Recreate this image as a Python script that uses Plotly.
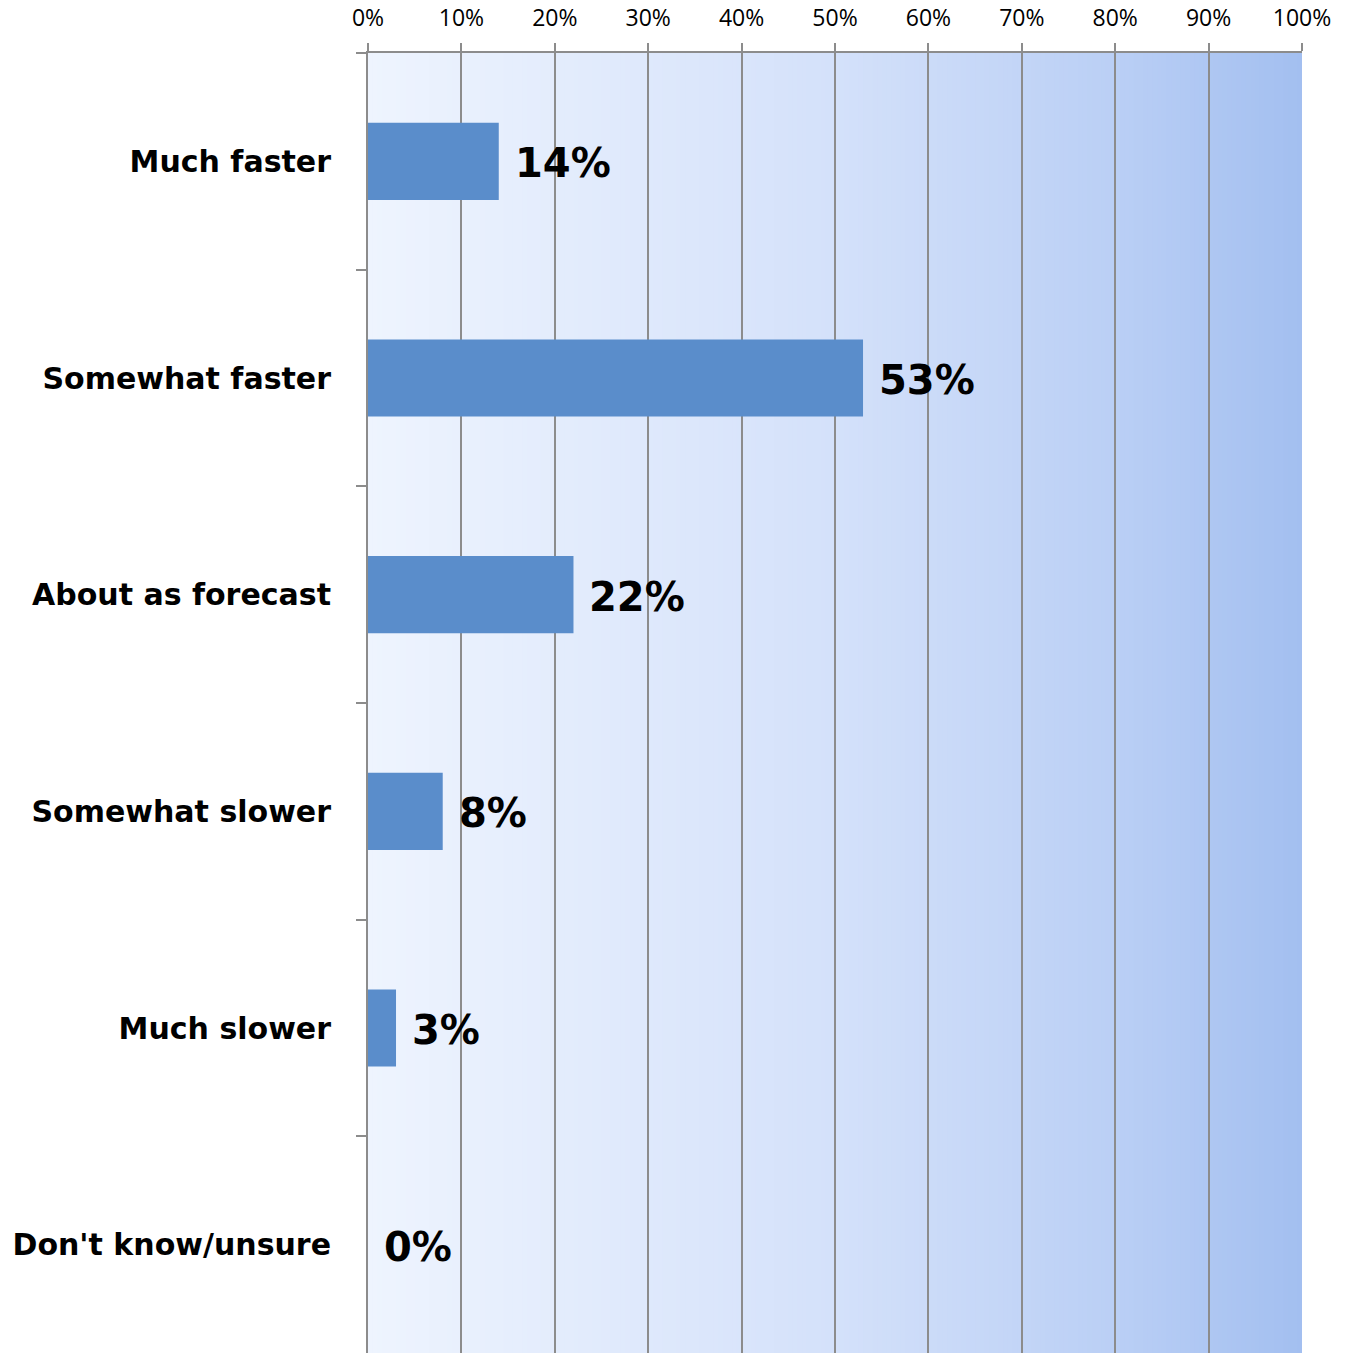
import plotly.graph_objects as go

categories = ["Much faster", "Somewhat faster", "About as forecast",
              "Somewhat slower", "Much slower", "Don't know/unsure"]
values = [14, 53, 22, 8, 3, 0]
x_ticks = [0, 10, 20, 30, 40, 50, 60, 70, 80, 90, 100]
x_tick_labels = [f"{t}%" for t in x_ticks]

bar_color = "#5a8dcb"
grid_color = "#8c8c8c"
label_font = dict(family="DejaVu Sans, Verdana, sans-serif", color="black", weight="bold")

# background gradient stops (position along x range, rgb)
grad_stops = [(0.0, (238, 244, 254)), (0.5, (212, 225, 250)),
              (0.8, (186, 207, 245)), (1.0, (163, 191, 240))]


def grad_color(t):
    for (p0, c0), (p1, c1) in zip(grad_stops[:-1], grad_stops[1:]):
        if p0 <= t <= p1:
            f = (t - p0) / (p1 - p0) if p1 > p0 else 0
            r, g, b = (round(a + (b_ - a) * f) for a, b_ in zip(c0, c1))
            return f"rgb({r},{g},{b})"
    return "rgb(163,191,240)"


# stacked rectangles, each running to the right edge, so no seams show
x0, x1 = x_ticks[0], x_ticks[-1]
n_slices = 200
shapes = []
for i in range(n_slices):
    a = x0 + (x1 - x0) * i / n_slices
    shapes.append(dict(type="rect", xref="x", yref="paper", x0=a, x1=x1,
                       y0=0, y1=1, layer="below", line=dict(width=0),
                       fillcolor=grad_color((i + 0.5) / n_slices)))

fig = go.Figure()
fig.add_trace(go.Bar(
    x=values, y=categories, orientation="h",
    marker=dict(color=bar_color, line=dict(width=0)),
    hoverinfo="skip",
))

annotations = [
    dict(x=v, y=c, xref="x", yref="y", text=f"{v}%", showarrow=False,
         xanchor="left", yanchor="middle", xshift=14, yshift=-2,
         font=dict(size=40, **label_font))
    for c, v in zip(categories, values)
]

fig.update_layout(
    width=1349, height=1353,
    margin=dict(l=368, r=47, t=53, b=0, pad=0),
    paper_bgcolor="white", plot_bgcolor="white",
    showlegend=False, bargap=0.644,
    shapes=shapes, annotations=annotations,
    xaxis=dict(
        side="top", range=[x0, x1], tickmode="array",
        tickvals=x_ticks, ticktext=x_tick_labels,
        ticks="outside", ticklen=8, tickwidth=2, tickcolor=grid_color,
        showgrid=True, gridcolor=grid_color, gridwidth=2,
        showline=True, linecolor=grid_color, linewidth=2,
        zeroline=False, fixedrange=True, ticklabelstandoff=8,
        tickfont=dict(family="Open Sans, sans-serif", size=23, color="black"),
    ),
    yaxis=dict(
        categoryorder="array", categoryarray=categories, autorange="reversed",
        ticks="outside", tickson="boundaries", ticklen=10, tickwidth=2,
        tickcolor=grid_color, showline=True, linecolor=grid_color, linewidth=2,
        showgrid=False, zeroline=False, ticklabelstandoff=29,
        tickfont=dict(size=30, **label_font),
    ),
)

fig.write_html("out.html")
